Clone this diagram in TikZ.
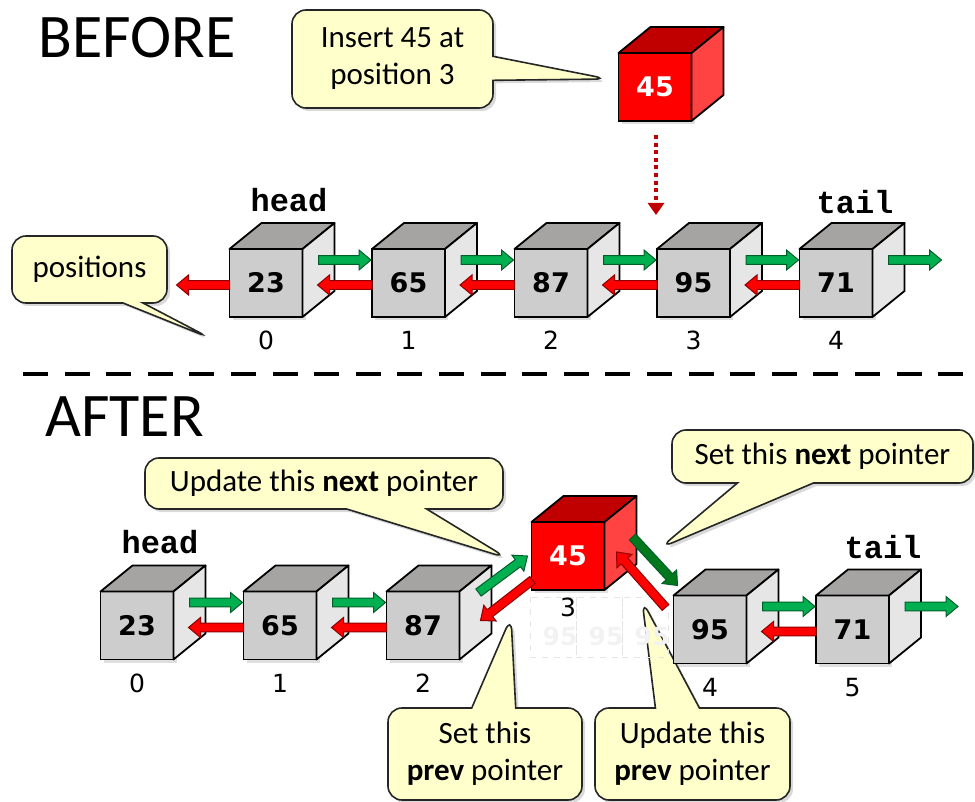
\documentclass[tikz,border=0pt]{standalone}
\usepackage{fontspec}
\setmainfont{Carlito}
\newfontfamily\numfont{DejaVu Sans}
\newfontfamily\ptrfont{Liberation Mono}
\usetikzlibrary{arrows.meta, positioning, calc, shapes.callouts, shadows}

\definecolor{grayfront}{RGB}{205,205,205}
\definecolor{graytop}{RGB}{166,163,163}
\definecolor{grayside}{RGB}{230,230,230}
\definecolor{redfront}{RGB}{255,0,0}
\definecolor{redtop}{RGB}{192,0,0}
\definecolor{redside}{RGB}{255,66,66}
\definecolor{nextfill}{RGB}{0,176,80}
\definecolor{nextline}{RGB}{0,95,40}
\definecolor{newfill}{RGB}{0,120,30}
\definecolor{prevfill}{RGB}{255,0,0}
\definecolor{prevline}{RGB}{140,0,0}
\definecolor{notefill}{RGB}{255,255,204}

% list element: front face is the node, top and side faces drawn after it
\newcommand\cubenode[4]{% name, colour set, position, value
  \node[#2cube] (#1) at #3 {#4};
  \filldraw[cubeedge, fill=#2top] (#1.north west) -- ++(32,-26) -- ($(#1.north east)+(32,-26)$) -- (#1.north east) -- cycle;
  \filldraw[cubeedge, fill=#2side] (#1.north east) -- ++(32,-26) -- ($(#1.south east)+(32,-26)$) -- (#1.south east) -- cycle;
}

% fat pointer arrow between two named coordinates
\newcommand\pointer[3]{% style, from, to
  \coordinate (neck) at ($(#3)!6pt!(#2)$);
  \filldraw[#1] ($(#2)!2.2pt!90:(#3)$) -- ($(neck)!2.2pt!90:(#3)$) -- ($(neck)!5pt!90:(#3)$) -- (#3)
    -- ($(neck)!5pt!-90:(#3)$) -- ($(neck)!2.2pt!-90:(#3)$) -- ($(#2)!2.2pt!-90:(#3)$) -- cycle;
}

\begin{document}
\begin{tikzpicture}[x=0.5pt, y=-0.5pt,
  cube/.style={draw, line width=0.9pt, minimum width=36.5pt, minimum height=34pt, inner sep=0pt, outer sep=0pt,
    font=\numfont\bfseries\fontsize{13.5}{13.5}\selectfont,
    drop shadow={opacity=0.25, shadow xshift=1.5pt, shadow yshift=-1.5pt}},
  graycube/.style={cube, fill=grayfront},
  redcube/.style={cube, fill=redfront, text=white},
  cubeedge/.style={draw, line width=0.9pt, line join=round},
  nextptr/.style={fill=nextfill, draw=nextline, line width=0.5pt},
  newptr/.style={fill=newfill, draw=nextline, line width=0.5pt},
  prevptr/.style={fill=prevfill, draw=prevline, line width=0.5pt},
  idx/.style={inner sep=0pt, font=\numfont\fontsize{12.5}{12.5}\selectfont},
  ptrname/.style={inner sep=0pt, font=\ptrfont\bfseries\fontsize{16}{16}\selectfont},
  title/.style={inner sep=0pt, anchor=base west, font=\fontsize{31}{31}\selectfont},
  note/.style={rectangle callout, draw=black!85, line width=0.8pt, fill=notefill, rounded corners=7pt,
    inner sep=0pt, align=center, font=\fontsize{15.5}{18.5}\selectfont,
    drop shadow={opacity=0.3, shadow xshift=1.5pt, shadow yshift=-1.5pt}},
  ghost/.style={draw=black!10, dashed, line width=0.4pt},
  ghosttext/.style={inner sep=0pt, text=black!5, font=\numfont\bfseries\fontsize{12.5}{12.5}\selectfont}]

\useasboundingbox (0,0) rectangle (975,802);

\node[title] (before) at (38,58) {BEFORE};
\node[title] (after) at (45,437) {AFTER};
\draw[line width=2pt, dash pattern=on 12.5pt off 8.3pt] (23,374) -- (975,374);

% ---- before the insert ----
\node[note, minimum width=100.5pt, minimum height=49pt, callout absolute pointer={(608,79)},
  callout pointer width=12pt] (insnote) at (392.5,59) {Insert 45 at\\position 3};
\node[note, minimum width=77.5pt, minimum height=33.5pt, callout absolute pointer={(210,338)},
  callout pointer width=10pt] (posnote) at (89.5,269.5) {positions};

\cubenode{rt}{red}{(655,87)}{45}
\cubenode{t0}{gray}{(266,283)}{23}
\cubenode{t1}{gray}{(408.5,283)}{65}
\cubenode{t2}{gray}{(551,283)}{87}
\cubenode{t3}{gray}{(693.5,283)}{95}
\cubenode{t4}{gray}{(836,283)}{71}

\node[ptrname] (head1) at (289,200) {head};
\node[ptrname] (tail1) at (855,202) {tail};
\foreach \n in {0,...,4}
  \node[idx, below=7pt of t\n] (ti\n) {\n};

\draw[draw=redtop, line width=2pt, dash pattern=on 2pt off 1.8pt, -{Triangle[length=6pt, width=8pt]}]
  ($(rt.south)+(1,14)$) -- ($(rt.south)+(1,94)$);

\foreach \a/\b in {t0/t1, t1/t2, t2/t3, t3/t4} {
  \coordinate (s) at ($(\a.east)+(16,-23)$);
  \coordinate (e) at ($(\b.west)+(-1,-23)$);
  \pointer{nextptr}{s}{e}
  \coordinate (s) at ($(\b.west)+(0,2)$);
  \coordinate (e) at ($(\a.east)+(15,2)$);
  \pointer{prevptr}{s}{e}
}
\coordinate (s) at ($(t0.west)+(0,2)$);
\coordinate (e) at ($(t0.west)+(-53,2)$);
\pointer{prevptr}{s}{e}
\coordinate (s) at ($(t4.east)+(16,-23)$);
\coordinate (e) at ($(t4.east)+(69,-23)$);
\pointer{nextptr}{s}{e}

% ---- after the insert ----
\node[note, minimum width=179pt, minimum height=25.5pt, callout absolute pointer={(507,558)},
  callout pointer width=40pt] (updnext) at (324,483.5) {Update this \textbf{next} pointer};
\node[note, minimum width=150.5pt, minimum height=26.5pt, callout absolute pointer={(660,548)},
  callout pointer width=38pt] (setnext) at (822.5,456.5) {Set this \textbf{next} pointer};
\node[note, minimum width=97pt, minimum height=46pt, callout absolute pointer={(511,617)},
  callout pointer width=22pt] (setprev) at (485,754) {Set this\\\textbf{prev} pointer};
\node[note, minimum width=97.5pt, minimum height=46pt, callout absolute pointer={(642,600)},
  callout pointer width=22pt] (updprev) at (692.5,754) {Update this\\\textbf{prev} pointer};

% old slot left behind
\draw[ghost] (530,597) rectangle (576,657) (576,597) rectangle (622,657) (622,597) rectangle (668,657);
\node[ghosttext] (g1) at (560,636) {95};
\node[ghosttext] (g2) at (606,636) {95};
\node[ghosttext] (g3) at (652,636) {95};

\cubenode{b0}{gray}{(137,625.5)}{23}
\cubenode{b1}{gray}{(280,625.5)}{65}
\cubenode{b2}{gray}{(423,625.5)}{87}
\cubenode{b3}{gray}{(710,629.5)}{95}
\cubenode{b4}{gray}{(852.5,629.5)}{71}
\cubenode{r}{red}{(568,556)}{45}

\node[ptrname] (head2) at (160,542) {head};
\node[ptrname] (tail2) at (883,547) {tail};
\foreach \n/\c in {0/b0, 1/b1, 2/b2, 4/b3, 5/b4}
  \node[idx, below=7pt of \c] (bi\n) {\n};
\node[idx, below=4pt of r] (bi3) {3};

\foreach \a/\b in {b0/b1, b1/b2, b3/b4} {
  \coordinate (s) at ($(\a.east)+(16,-23)$);
  \coordinate (e) at ($(\b.west)+(-1,-23)$);
  \pointer{nextptr}{s}{e}
  \coordinate (s) at ($(\b.west)+(0,2)$);
  \coordinate (e) at ($(\a.east)+(15,2)$);
  \pointer{prevptr}{s}{e}
}
\coordinate (s) at ($(b4.east)+(16,-23)$);
\coordinate (e) at ($(b4.east)+(69,-23)$);
\pointer{nextptr}{s}{e}

% links of the new element
\coordinate (s) at ($(b2.east)+(19,-33)$);
\coordinate (e) at ($(r.west)+(-4,0)$);
\pointer{nextptr}{s}{e}
\coordinate (s) at ($(r.west)+(1,24)$);
\coordinate (e) at ($(b2.east)+(21,-5)$);
\pointer{prevptr}{s}{e}
\coordinate (s) at ($(r.east)+(28,-19)$);
\coordinate (e) at ($(b3.north west)+(4,-10)$);
\pointer{newptr}{s}{e}
\coordinate (s) at ($(b3.north west)+(-8,12)$);
\coordinate (e) at ($(r.east)+(12,-4)$);
\pointer{prevptr}{s}{e}

\end{tikzpicture}
\end{document}
